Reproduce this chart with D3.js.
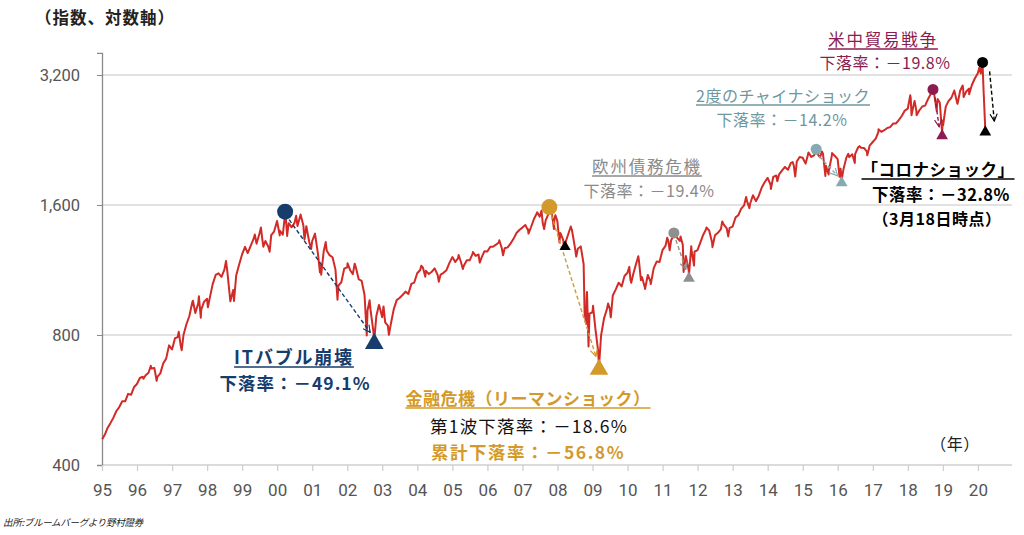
<!DOCTYPE html>
<html><head><meta charset="utf-8">
<script src="https://cdn.jsdelivr.net/npm/d3@7"></script>
<style>
html,body{margin:0;padding:0;background:#fff;}
svg{display:block;font-family:"Noto Sans CJK JP","Noto Sans",sans-serif;}
</style></head>
<body><svg id="c" width="1024" height="535"></svg>
<script>
// S&P500 monthly closes, Jan 1995 .. Feb 2020
const monthStart = [1995, 0];
const monthlyClose = [
470.42,487.39,500.71,514.71,533.40,544.75,562.06,561.88,584.41,581.50,605.37,615.93,
636.02,640.43,645.50,654.17,669.12,670.63,639.95,651.99,687.31,705.27,757.02,740.74,
786.16,790.82,757.12,801.34,848.28,885.14,954.29,899.47,947.28,914.62,955.40,970.43,
980.28,1049.34,1101.75,1111.75,1090.82,1133.84,1120.67,957.28,1017.01,1098.67,1163.63,1229.23,
1279.64,1238.33,1286.37,1335.18,1301.84,1372.71,1328.72,1320.41,1282.71,1362.93,1388.91,1469.25,
1394.46,1366.42,1498.58,1452.43,1420.60,1454.60,1430.83,1517.68,1436.51,1429.40,1314.95,1320.28,
1366.01,1239.94,1160.33,1249.46,1255.82,1224.38,1211.23,1133.58,1040.94,1059.78,1139.45,1148.08,
1130.20,1106.73,1147.39,1076.92,1067.14,989.82,911.62,916.07,815.28,885.76,936.31,879.82,
855.70,841.15,848.18,916.92,963.59,974.50,990.31,1008.01,995.97,1050.71,1058.20,1111.92,
1131.13,1144.94,1126.21,1107.30,1120.68,1140.84,1101.72,1104.24,1114.58,1130.20,1173.82,1211.92,
1181.27,1203.60,1180.59,1156.85,1191.50,1191.33,1234.18,1220.33,1228.81,1207.01,1249.48,1248.29,
1280.08,1280.66,1294.83,1310.61,1270.09,1270.20,1276.66,1303.82,1335.85,1377.94,1400.63,1418.30,
1438.24,1406.82,1420.86,1482.37,1530.62,1503.35,1455.27,1473.99,1526.75,1549.38,1481.14,1468.36,
1378.55,1330.63,1322.70,1385.59,1400.38,1280.00,1267.38,1282.83,1166.36,968.75,896.24,903.25,
825.88,735.09,797.87,872.81,919.14,919.32,987.48,1020.62,1057.08,1036.19,1095.63,1115.10,
1073.87,1104.49,1169.43,1186.69,1089.41,1030.71,1101.60,1049.33,1141.20,1183.26,1180.55,1257.64,
1286.12,1327.22,1325.83,1363.61,1345.20,1320.64,1292.28,1218.89,1131.42,1253.30,1246.96,1257.60,
1312.41,1365.68,1408.47,1397.91,1310.33,1362.16,1379.32,1406.58,1440.67,1412.16,1416.18,1426.19,
1498.11,1514.68,1569.19,1597.57,1630.74,1606.28,1685.73,1632.97,1681.55,1756.54,1805.81,1848.36,
1782.59,1859.45,1872.34,1883.95,1923.57,1960.23,1930.67,2003.37,1972.29,2018.05,2067.56,2058.90,
1994.99,2104.50,2067.89,2085.51,2107.39,2063.11,2103.84,1972.18,1920.03,2079.36,2080.41,2043.94,
1940.24,1932.23,2059.74,2065.30,2096.95,2098.86,2173.60,2170.95,2168.27,2126.15,2198.81,2238.83,
2278.87,2363.64,2362.72,2384.20,2411.80,2423.41,2470.30,2471.65,2519.36,2575.26,2647.58,2673.61,
2823.81,2713.83,2640.87,2648.05,2705.27,2718.37,2816.29,2901.52,2913.98,2711.74,2760.17,2506.85,
2704.10,2784.49,2834.40,2945.83,2752.06,2941.76,2980.38,2926.46,2976.74,3037.56,3140.98,3230.78,
3225.52,2954.22
];
// intra-month highs and lows
const extraPoints = [
["1995-01-03",459.11],["1996-03-08",633.50],["1996-05-24",678.51],["1996-07-24",626.65],
["1997-03-11",813.65],["1997-04-11",737.65],["1997-08-06",960.32],["1997-10-07",983.12],
["1997-10-27",876.99],["1998-01-09",927.69],["1998-07-17",1186.75],["1998-10-08",959.44],
["1999-05-13",1367.56],["1999-07-16",1418.78],["1999-08-10",1281.43],["1999-10-15",1247.41],
["2000-01-28",1360.16],["2000-03-24",1527.46],["2000-04-14",1356.56],["2000-07-17",1510.49],
["2000-09-01",1520.77],["2000-10-12",1329.78],["2000-12-20",1264.74],["2001-01-30",1373.73],
["2001-03-22",1117.58],["2001-04-04",1103.25],["2001-05-21",1312.83],["2001-09-21",965.80],
["2002-01-04",1172.51],["2002-03-19",1170.29],["2002-07-23",797.70],["2002-08-22",962.70],
["2002-10-09",776.76],["2002-11-27",938.87],["2003-01-14",931.66],["2003-03-11",800.73],
["2004-02-11",1157.76],["2004-03-24",1091.33],["2004-08-12",1063.23],["2005-03-07",1225.31],
["2005-04-20",1137.50],["2005-08-03",1245.04],["2005-10-13",1176.84],["2006-05-05",1325.76],
["2006-06-13",1223.69],["2007-02-27",1399.04],["2007-03-05",1374.12],["2007-06-04",1539.18],
["2007-07-19",1553.08],["2007-08-15",1406.70],["2007-10-09",1565.15],["2007-11-26",1407.22],
["2007-12-10",1515.96],["2008-01-22",1310.50],["2008-03-10",1273.37],["2008-05-19",1426.63],
["2008-07-15",1214.91],["2008-10-10",899.22],["2008-10-27",848.92],["2008-11-04",1005.75],
["2008-11-20",752.44],["2009-01-06",934.70],["2009-03-09",676.53],["2009-06-12",946.21],
["2009-07-10",879.13],["2010-01-19",1150.23],["2010-02-08",1056.74],["2010-04-23",1217.28],
["2010-05-20",1071.59],["2010-07-02",1022.58],["2010-08-27",1064.59],["2011-02-18",1343.01],
["2011-03-16",1256.88],["2011-07-07",1353.22],["2011-08-08",1119.46],["2011-10-03",1099.23],
["2011-10-27",1284.59],["2011-11-25",1158.67],["2012-04-02",1419.04],["2012-06-04",1278.04],
["2012-09-14",1465.77],["2012-11-15",1353.33],["2013-05-21",1669.16],["2013-06-24",1573.09],
["2014-02-03",1741.89],["2014-04-11",1815.69],["2014-09-18",2011.36],["2014-10-15",1862.49],
["2015-03-02",2117.39],["2015-05-21",2130.82],["2015-07-20",2128.28],["2015-08-25",1867.61],
["2015-09-28",1881.77],["2015-11-03",2109.79],["2016-01-20",1859.33],["2016-02-11",1829.08],
["2016-04-20",2102.40],["2016-06-27",2000.54],["2016-08-15",2190.15],["2016-11-04",2085.18],
["2017-03-01",2395.96],["2018-01-26",2872.87],["2018-02-08",2581.00],["2018-03-12",2786.57],
["2018-04-02",2581.88],["2018-09-20",2930.75],["2018-10-29",2641.25],["2018-11-07",2813.89],
["2018-12-24",2351.10],["2019-01-03",2447.89],["2019-06-03",2744.45],["2019-07-26",3025.86],
["2019-08-05",2844.74],["2019-10-02",2887.61],["2020-01-17",3329.62],["2020-02-19",3386.15],
["2020-03-18",2398.10]
];
const yTicks = [400, 800, 1600, 3200];
const xTickYears = d3.range(1995, 2021);

// events: peak date/value, trough date/value
const events = [
 {name:"it", color:"#163d6b", peak:["2000-03-24",1527.46], trough:["2002-10-09",776.76], r:8, tri:150},
 {name:"gfc", color:"#d39a2b", peak:["2007-10-09",1565.15], trough:["2009-03-09",676.53], r:8, tri:150},
 {name:"eu", color:"#8f8f8f", peak:["2011-04-29",1363.61], trough:["2011-10-03",1099.23], r:5.5, tri:60},
 {name:"cn", color:"#86aab1", peak:["2015-05-21",2130.82], trough:["2016-02-11",1829.08], r:5.5, tri:60},
 {name:"tw", color:"#8c1c4f", peak:["2018-09-20",2930.75], trough:["2018-12-24",2351.10], r:5.5, tri:60},
 {name:"cv", color:"#000000", peak:["2020-02-19",3386.15], trough:["2020-03-18",2398.10], r:5.5, tri:60}
];
const firstWave = ["2008-03-10",1273.37];

const parse = d3.timeParse("%Y-%m-%d");
let pts = monthlyClose.map((v,i)=>({d:new Date(monthStart[0], monthStart[1]+i+1, 0), v}));
extraPoints.forEach(([s,v])=>pts.push({d:parse(s), v}));
pts.sort((a,b)=>a.d-b.d);

const svg = d3.select("#c");
const x = d3.scaleTime().domain([new Date(1995,0,1), new Date(2021,0,1)]).range([102, 1013]);
const y = d3.scaleLog().domain([400, 3600]).range([465, 52.9]);

// gridlines
svg.append("g").selectAll("line").data(yTicks).join("line")
  .attr("x1",102).attr("x2",1012).attr("y1",d=>y(d)).attr("y2",d=>y(d))
  .attr("stroke",d=>d===400?"#cfcfcf":"#d9d9d9").attr("stroke-width",1.3);

// y axis
const ya = svg.append("g").attr("transform","translate(102,0)")
  .call(d3.axisLeft(y).tickValues(yTicks).tickFormat(d3.format(",")).tickSize(5).tickPadding(17));
ya.select(".domain").attr("stroke","#8a8a8a").attr("stroke-width",1.3);
ya.selectAll(".tick line").attr("stroke","#8a8a8a");
ya.selectAll("text").attr("fill","#555").style("font-size","16.5px").style("font-family","Roboto, 'Noto Sans', sans-serif");

// x axis
const xa = svg.append("g").attr("transform","translate(0,465)")
  .call(d3.axisBottom(x).tickValues(xTickYears.map(yy=>new Date(yy,0,1)))
    .tickFormat(d3.timeFormat("%y")).tickSize(6).tickPadding(13));
xa.select(".domain").remove();
xa.selectAll(".tick line").attr("stroke","#cfcfcf").attr("stroke-width",1.3);
xa.selectAll("text").attr("fill","#555").style("font-size","17px").style("font-family","Roboto, 'Noto Sans', sans-serif");

// series
svg.append("path").datum(pts)
  .attr("d", d3.line().x(d=>x(d.d)).y(d=>y(d.v)))
  .attr("fill","none").attr("stroke","#d22b27").attr("stroke-width",2).attr("stroke-linejoin","round");

// arrow markers
const defs = svg.append("defs");
events.forEach(e=>{
  defs.append("marker").attr("id","ah-"+e.name).attr("viewBox","0 0 10 10")
    .attr("refX",9).attr("refY",5).attr("markerWidth",9).attr("markerHeight",9)
    .attr("markerUnits","userSpaceOnUse").attr("orient","auto")
    .append("path").attr("d","M1,1 L9,5 L1,9").attr("fill","none").attr("stroke",e.color).attr("stroke-width",1.3);
});

const arrowOffsets = {it:[4,6,-4,-8], gfc:[2,6,-3,-10], eu:[2,5,-3,-6], cn:[3,5,-4,-4], tw:[2,6,-3,-6], cv:[7,7,9,-8]};
events.forEach(e=>{
  const px=x(parse(e.peak[0])), py=y(e.peak[1]);
  const tx=x(parse(e.trough[0])), ty=y(e.trough[1]);
  const o=arrowOffsets[e.name];
  svg.append("line").attr("x1",px+o[0]).attr("y1",py+o[1]).attr("x2",tx+o[2]).attr("y2",ty+o[3])
    .attr("stroke",e.color).attr("stroke-width",1.4).attr("stroke-dasharray","4,2.5")
    .attr("marker-end","url(#ah-"+e.name+")");
});
events.forEach(e=>{
  const px=x(parse(e.peak[0])), py=y(e.peak[1]);
  const tx=x(parse(e.trough[0])), ty=y(e.trough[1]);
  svg.append("circle").attr("cx",px).attr("cy",py-2).attr("r",e.r).attr("fill",e.color);
  svg.append("path").attr("d",d3.symbol(d3.symbolTriangle, e.tri)())
    .attr("transform",`translate(${tx},${ty+3})`).attr("fill",e.color);
});
svg.append("path").attr("d",d3.symbol(d3.symbolTriangle, 55)())
  .attr("transform",`translate(${x(parse(firstWave[0]))+1},${y(firstWave[1])-1})`).attr("fill","#000");

// texts
function txt(t, cx, cy, color, size, weight, underline, ls, anchor){
  const el = svg.append("text").attr("x",cx).attr("y",cy).attr("text-anchor",anchor||"middle")
    .attr("fill",color).style("font-size",size+"px").style("font-weight",weight||400)
    .style("letter-spacing",(ls==null?0.5:ls)+"px").text(t);
  if(underline){
    const bb = el.node().getBBox();
    svg.append("line").attr("x1",bb.x).attr("x2",bb.x+bb.width).attr("y1",cy+3).attr("y2",cy+3)
      .attr("stroke",color).attr("stroke-width",1.3);
  }
  return el;
}
txt("（指数、対数軸）", 35, 24, "#222", 16.5, 700, false, 1, "start");
txt("（年）", 955, 450, "#222", 16, 400, false);

txt("ITバブル崩壊", 294, 364, "#163d6b", 18, 700, true, 1.8);
txt("下落率：－49.1%", 295, 390, "#163d6b", 17.5, 700, false, 1);

txt("金融危機（リーマンショック）", 528, 405, "#d39a2b", 17, 700, true, 0.5);
txt("第1波下落率：－18.6%", 529, 433, "#111", 17.5, 400, false, 1.2);
txt("累計下落率：－56.8%", 528, 459, "#d39a2b", 17.5, 700, false, 1.5);

txt("欧州債務危機", 647, 173, "#8a8a8a", 16.5, 400, true, 1.8);
txt("下落率：－19.4%", 649, 197, "#8a8a8a", 16, 400, false);

txt("2度のチャイナショック", 783, 102, "#6f979f", 16, 400, true);
txt("下落率：－14.2%", 782, 126, "#6f979f", 16, 400, false);

txt("米中貿易戦争", 883, 46, "#8c1c4f", 16.5, 400, true, 1.8);
txt("下落率：－19.8%", 885, 69, "#8c1c4f", 16, 400, false);

txt("「コロナショック」", 938, 176, "#000", 16.5, 700, true);
txt("下落率：－32.8%", 941, 201, "#000", 16.5, 700, false);
txt("（3月18日時点）", 937, 225, "#000", 16, 700, false);

svg.append("text").attr("x",3).attr("y",526).attr("fill","#222")
  .style("font-size","9.5px").style("font-style","italic").style("letter-spacing","-0.3px")
  .text("出所:ブルームバーグより野村證券");
</script></body></html>
